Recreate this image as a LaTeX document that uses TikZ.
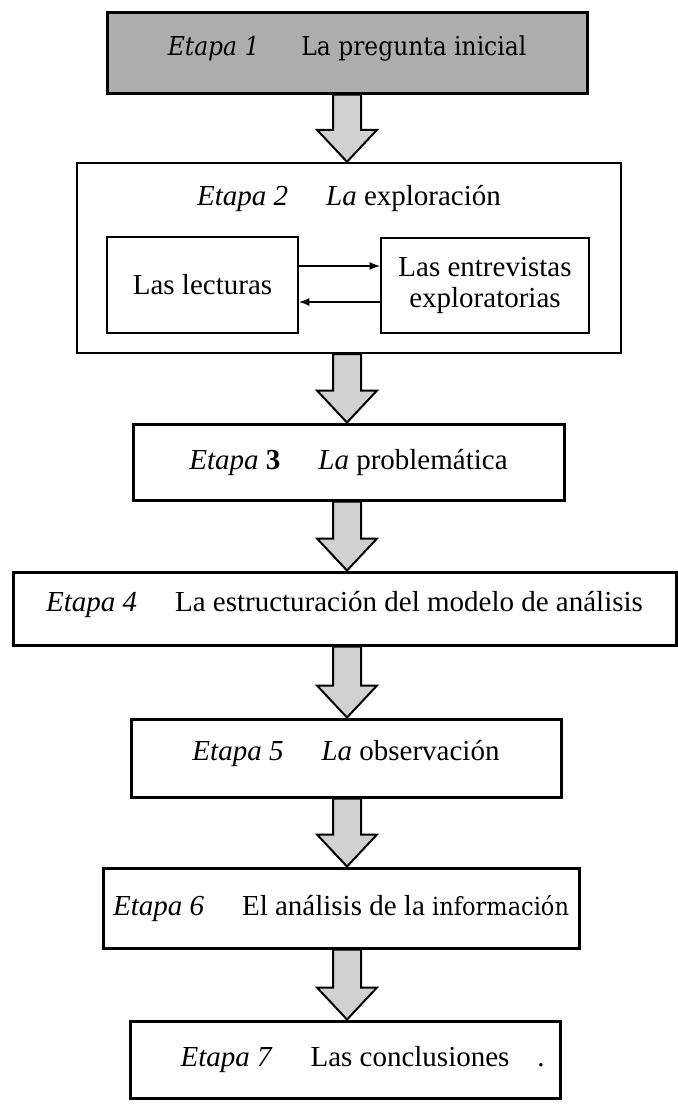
\documentclass[tikz,border=0pt]{standalone}
\usepackage{fontspec}
\setmainfont{Liberation Serif}
\newfontfamily\centfont{DejaVu Serif Condensed}
\usetikzlibrary{calc}

\newcommand{\etapafont}{\fontsize{14.5pt}{15.5pt}\selectfont}
% fat arrow from one stage box down to the next
\newcommand{\flecha}[2]{%
  \draw[flecha] ($(eje |- #1.south)+(-14,0)$) -- ($(eje |- #2.north)+(-14,-32)$) -- ++(-16,0)
    -- (eje |- #2.north) -- ($(eje |- #2.north)+(30,-32)$) -- ++(-16,0)
    -- ($(eje |- #1.south)+(14,0)$) -- cycle;}

\begin{document}
\begin{tikzpicture}[x=0.5pt,y=-0.5pt]
\tikzstyle{every node}=[font=\etapafont]
\tikzstyle{etapa}=[draw, line width=1.5pt, inner sep=0pt]
\tikzstyle{sub}=[draw, line width=1pt, inner sep=0pt, align=center]
\tikzstyle{flecha}=[draw, line width=1pt, fill=black!18, line join=miter]

\useasboundingbox (0,0) rectangle (677,1110);
\coordinate (eje) at (347,0);

\node[etapa, fill=black!32, minimum width=240pt, minimum height=40.5pt, text depth=7pt,
      font=\centfont\fontsize{13pt}{15pt}\selectfont] (E1) at (347,52.5) {\textit{Etapa 1}\hspace{21pt}La pregunta inicial};
\node[etapa, line width=1.2pt, minimum width=272pt, minimum height=95pt] (E2) at (349,258) {};
\node (T2) at (349,198) {\textit{Etapa 2}\hspace{19pt}\textit{La} exploración};
\node[sub, minimum width=95.5pt, minimum height=48pt] (L) at (202.5,285) {Las lecturas};
\node[sub, minimum width=104pt, minimum height=47.5pt] (X) at (485,285) {Las entrevistas\\exploratorias};
\node[etapa, minimum width=215.5pt, minimum height=38pt] (E3) at (348.5,462) {\textit{Etapa} \textbf{3}\hspace{19pt}\textit{La} problemática};
\node[etapa, minimum width=331.5pt, minimum height=36.5pt, text depth=7pt] (E4) at (344.5,608.5) {\textit{Etapa 4}\hspace{19pt}La estructuración del modelo de análisis};
\node[etapa, minimum width=215pt, minimum height=39pt, text depth=8pt] (E5) at (346,758) {\textit{Etapa 5}\hspace{19pt}\textit{La} observación};
\node[etapa, minimum width=238pt, minimum height=40pt] (E6) at (341,908) {\textit{Etapa 6}\hspace{19pt}El análisis de la {\centfont\fontsize{12.5pt}{15pt}\selectfont información}};
\node[etapa, minimum width=215pt, minimum height=38.5pt] (E7) at (345,1059.5) {\textit{Etapa 7}\hspace{19pt}Las conclusiones\rlap{\hspace{14pt}.}};

\draw[-latex, line width=0.8pt] ([yshift=9.5pt]L.east) -- ([yshift=9.5pt]X.west);
\draw[-latex, line width=0.8pt] ([yshift=-8.5pt]X.west) -- ([yshift=-8.5pt]L.east);

\flecha{E1}{E2}
\flecha{E2}{E3}
\flecha{E3}{E4}
\flecha{E4}{E5}
\flecha{E5}{E6}
\flecha{E6}{E7}
\end{tikzpicture}
\end{document}
